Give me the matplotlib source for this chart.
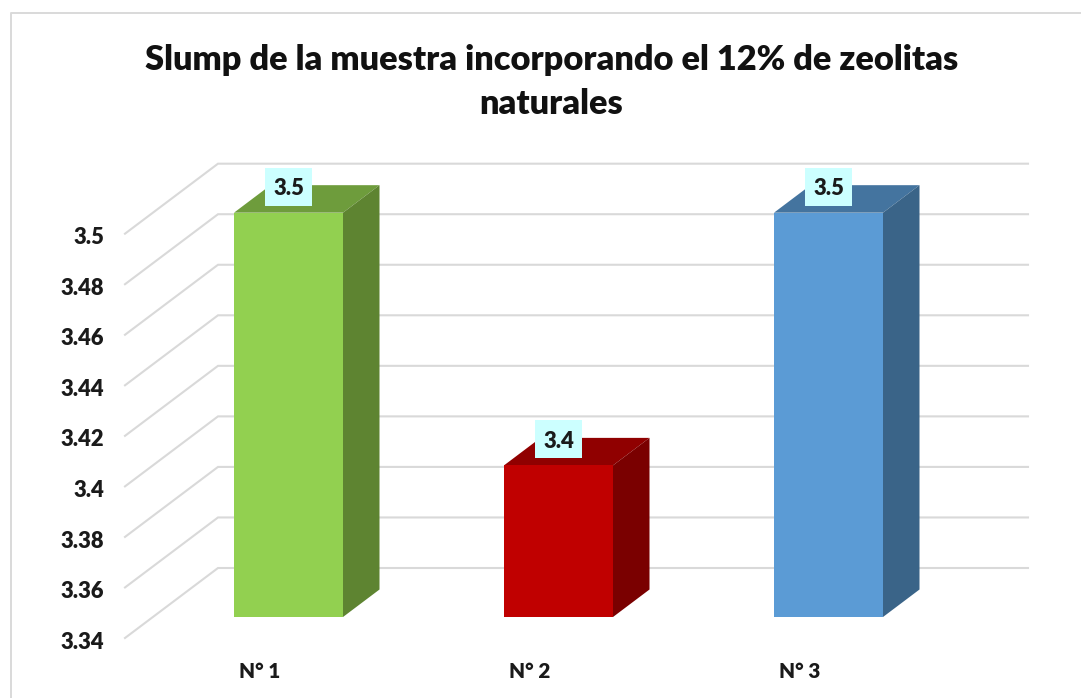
import matplotlib
matplotlib.use("Agg")
import matplotlib.pyplot as plt
from matplotlib.patches import Polygon, Rectangle
from matplotlib.transforms import ScaledTranslation

categories = ["N° 1", "N° 2", "N° 3"]
values = [3.5, 3.4, 3.5]
value_labels = ["3.5", "3.4", "3.5"]
y_ticks = [3.34, 3.36, 3.38, 3.40, 3.42, 3.44, 3.46, 3.48, 3.50]
y_tick_labels = ["3.34", "3.36", "3.38", "3.4", "3.42", "3.44", "3.46", "3.48", "3.5"]
title = "Slump de la muestra incorporando el 12% de zeolitas\nnaturales"

front_colors = ["#92D050", "#C00000", "#5B9BD5"]
top_colors = ["#6E9C3C", "#900000", "#44749F"]
side_colors = ["#5E8431", "#7A0000", "#3A6488"]

W, H = 1081, 698
WEIGHT = "heavy"
LABEL_SIZE = 15.8
plt.rcParams["font.family"] = ["Lato", "DejaVu Sans"]
fig = plt.figure(figsize=(W / 100, H / 100), dpi=100, facecolor="white")

# plot box in pixels
L, R, T, B = 125, 1028, 164, 638
ax = fig.add_axes([L / W, 1 - B / H, (R - L) / W, (B - T) / H])
PX_X = 270.0          # pixels per category
PX_Y = 2527.0         # pixels per value unit
ax.set_xlim(-0.5, -0.5 + (R - L) / PX_X)
ax.set_ylim(3.34, 3.34 + (B - T) / PX_Y)
ax.patch.set_visible(False)
for s in ax.spines.values():
    s.set_visible(False)

dx = lambda p: p / PX_X
dy = lambda p: p / PX_Y

# frame of the chart
fig.add_artist(plt.Line2D([10.5 / W, 10.5 / W, 1], [0, 1 - 13 / H, 1 - 13 / H],
                          color="#D9D9D9", lw=1.4, transform=fig.transFigure))

# gridlines: front diagonal and back wall
DEPTH_X, DEPTH_Y = 93, 70
for t in y_ticks:
    ax.plot([-0.5, -0.5 + dx(DEPTH_X), ax.get_xlim()[1]],
            [t, t + dy(DEPTH_Y), t + dy(DEPTH_Y)],
            color="#D9D9D9", lw=1.5, clip_on=False, zorder=1, solid_joinstyle="miter")

# bars
BAR_W, OFF_X, OFF_Y, BAR_DX, BAR_DY = 109, 28.5, 21, 36.5, 27.5
for i, v in enumerate(values):
    x0 = i + dx(OFF_X) - dx(BAR_W) / 2
    x1 = x0 + dx(BAR_W)
    y0 = 3.34 + dy(OFF_Y)
    y1 = v + dy(OFF_Y)
    ddx, ddy = dx(BAR_DX), dy(BAR_DY)
    ax.add_patch(Polygon([(x0, y1), (x1, y1), (x1 + ddx, y1 + ddy), (x0 + ddx, y1 + ddy)],
                         fc=top_colors[i], ec="none", zorder=3, clip_on=False))
    ax.add_patch(Polygon([(x1, y0), (x1 + ddx, y0 + ddy), (x1 + ddx, y1 + ddy), (x1, y1)],
                         fc=side_colors[i], ec="none", zorder=3, clip_on=False))
    ax.add_patch(Rectangle((x0, y0), x1 - x0, y1 - y0, fc=front_colors[i], ec="none",
                           zorder=4, clip_on=False))
    cx, cy = i + dx(OFF_X), y1 + dy(26)
    ax.add_patch(Rectangle((cx - dx(23.5), cy - dy(19)), dx(47), dy(38), fc="#CCFFFF",
                           ec="none", zorder=5, clip_on=False))
    ax.text(cx, cy, value_labels[i], ha="center", va="center_baseline", fontsize=LABEL_SIZE,
            fontweight=WEIGHT, color="#1A1A1A", zorder=6)

ax.set_xticks(range(len(categories)), categories, fontsize=14.9, fontweight=WEIGHT, color="#1A1A1A")
ax.set_yticks(y_ticks, y_tick_labels, fontsize=LABEL_SIZE, fontweight=WEIGHT, color="#1A1A1A",
              va="center_baseline")
ax.tick_params(axis="both", length=0)
ax.tick_params(axis="x", pad=17)
ax.tick_params(axis="y", pad=15)
for lab in ax.get_yticklabels():
    lab.set_transform(lab.get_transform() + ScaledTranslation(0, -1.5 / 72, fig.dpi_scale_trans))

fig.text(551.5 / W, 1 - 82 / H, title, ha="center", va="center", fontsize=24.75,
         fontweight=WEIGHT, color="#111111", linespacing=1.5)

fig.savefig("out.png", dpi=100, facecolor="white")
